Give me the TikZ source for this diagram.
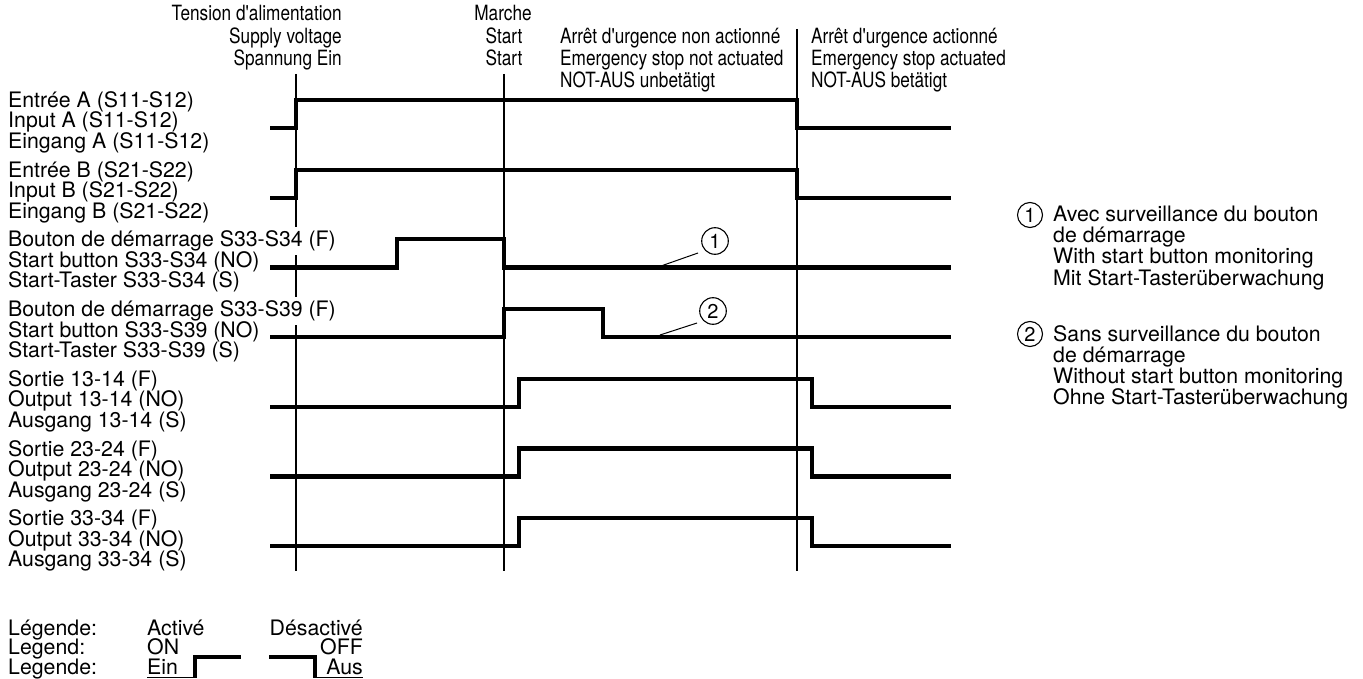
\documentclass[tikz,border=0pt]{standalone}
\usepackage{fontspec}
\setmainfont{TeX Gyre Heros}
\newfontfamily\narrowfont[FakeStretch=0.82]{TeX Gyre Heros}
\newcommand\lblf{\fontsize{21.3}{21}\selectfont}
\newcommand\hdrf{\narrowfont\fontsize{21}{21}\selectfont}
\newcommand\numf{\fontsize{20}{20}\selectfont}
\begin{document}
\begin{tikzpicture}[x=1pt,y=-1pt,
  sig/.style={line width=4.2pt},
  vline/.style={line width=1.8pt},
  lbl/.style={anchor=base west, inner xsep=0pt, inner ysep=0pt, font=\lblf},
  cutlbl/.style={lbl, fill=white, inner ysep=3.5pt},
  txt/.style={inner sep=0pt, font=\lblf},
  hdr/.style={inner sep=0pt, font=\hdrf},
  leader/.style={line width=1pt},
  num/.style={draw, circle, line width=1.1pt, minimum size=26.6pt, inner sep=0pt, font=\numf},
  thinline/.style={line width=1.6pt}]
\useasboundingbox (0,0) rectangle (1363,679);

% time marker lines
\coordinate (supT) at (296,74);  \coordinate (supB) at (296,571);
\coordinate (staT) at (504,74);  \coordinate (staB) at (504,571);
\coordinate (emeT) at (797,29);  \coordinate (emeB) at (797,571);
\draw[vline] (supT) -- (supB);
\draw[vline] (staT) -- (staB);
\draw[vline] (emeT) -- (emeB);

% header texts
\node[hdr, anchor=base east] (h1a) at (342,21) {Tension d'alimentation};
\node[hdr, anchor=base east] (h1b) at (342,44) {Supply voltage};
\node[hdr, anchor=base east] (h1c) at (342,66) {Spannung Ein};
\node[hdr, anchor=base] (h2a) at (503,21) {Marche};
\node[hdr, anchor=base] (h2b) at (504,44) {Start};
\node[hdr, anchor=base] (h2c) at (504,66) {Start};
\node[hdr, anchor=base west] (h3a) at (560,44) {Arrêt d'urgence non actionné};
\node[hdr, anchor=base west] (h3b) at (560,66) {Emergency stop not actuated};
\node[hdr, anchor=base west] (h3c) at (560,88) {NOT-AUS unbetätigt};
\node[hdr, anchor=base west] (h4a) at (811,44) {Arrêt d'urgence actionné};
\node[hdr, anchor=base west] (h4b) at (811,66) {Emergency stop actuated};
\node[hdr, anchor=base west] (h4c) at (811,88) {NOT-AUS betätigt};

% signal labels (the top line is on white, cutting the marker line where it crosses)
\foreach \i/\a/\b/\c in {
  0/{Entrée A (S11-S12)}/{Input A (S11-S12)}/{Eingang A (S11-S12)},
  1/{Entrée B (S21-S22)}/{Input B (S21-S22)}/{Eingang B (S21-S22)},
  2/{Bouton de démarrage S33-S34 (F)}/{Start button S33-S34 (NO)}/{Start-Taster S33-S34 (S)},
  3/{Bouton de démarrage S33-S39 (F)}/{Start button S33-S39 (NO)}/{Start-Taster S33-S39 (S)},
  4/{Sortie 13-14 (F)}/{Output 13-14 (NO)}/{Ausgang 13-14 (S)},
  5/{Sortie 23-24 (F)}/{Output 23-24 (NO)}/{Ausgang 23-24 (S)},
  6/{Sortie 33-34 (F)}/{Output 33-34 (NO)}/{Ausgang 33-34 (S)}}{
  \pgfmathsetmacro\L{128+69.7*\i}
  \node[cutlbl] (lab\i a) at (8,\L-20.5) {\a};
  \node[lbl] (lab\i b) at (8,\L) {\b};
  \node[lbl] (lab\i c) at (8,\L+20.5) {\c};
}

% signals
\foreach \i in {0,1}{
  \pgfmathsetmacro\L{128+69.7*\i}
  \draw[sig] (270,\L) -| (296,\L-28) -| (797,\L) -- (951,\L);
}
\draw[sig] (270,267.4) -| (397,239.4) -| (504,267.4) -- (951,267.4);
\draw[sig] (270,337.1) -| (504,309.1) -| (603,337.1) -- (951,337.1);
\foreach \i in {4,5,6}{
  \pgfmathsetmacro\L{128+69.7*\i}
  \draw[sig] (270,\L) -| (519,\L-28) -| (812,\L) -- (951,\L);
}

% circled markers on signals
\node[num] (n1) at (715,241) {1};
\coordinate (n1a) at (698,253); \coordinate (n1b) at (661,266);
\draw[leader] (n1a) -- (n1b);
\node[num] (n2) at (713,311) {2};
\coordinate (n2a) at (697,323); \coordinate (n2b) at (660,335);
\draw[leader] (n2a) -- (n2b);

% right legend
\node[num, minimum size=25pt] (r1) at (1030,215) {1};
\node[txt, anchor=base west] (r1a) at (1053,222) {Avec surveillance du bouton};
\node[txt, anchor=base west] (r1b) at (1053,243) {de démarrage};
\node[txt, anchor=base west] (r1c) at (1053,264) {With start button monitoring};
\node[txt, anchor=base west] (r1d) at (1053,285) {Mit Start-Tasterüberwachung};
\node[num, minimum size=25pt] (r2) at (1030,334) {2};
\node[txt, anchor=base west] (r2a) at (1053,341) {Sans surveillance du bouton};
\node[txt, anchor=base west] (r2b) at (1053,362) {de démarrage};
\node[txt, anchor=base west] (r2c) at (1053,383) {Without start button monitoring};
\node[txt, anchor=base west] (r2d) at (1053,404) {Ohne Start-Tasterüberwachung};

% bottom legend
\node[txt, anchor=base west] (g1) at (8,635) {Légende:};
\node[txt, anchor=base west] (g2) at (8,654.5) {Legend:};
\node[txt, anchor=base west] (g3) at (8,674) {Legende:};
\node[txt, anchor=base west] (on1) at (147,635) {Activé};
\node[txt, anchor=base west] (on2) at (147,654.5) {ON};
\node[txt, anchor=base west] (on3) at (147,674) {Ein};
\node[txt, anchor=base east] (of1) at (363,635) {Désactivé};
\node[txt, anchor=base east] (of2) at (363,654.5) {OFF};
\node[txt, anchor=base east] (of3) at (363,674) {Aus};
\coordinate (ona) at (147,677.5); \coordinate (onb) at (195,677.5);
\coordinate (onc) at (241,657);
\draw[thinline] (ona) -- (onb);
\draw[sig] (onb) |- (onc);
\coordinate (ofa) at (269,657); \coordinate (ofb) at (315,677.5);
\coordinate (ofc) at (363,677.5);
\draw[sig] (ofa) -| (ofb);
\draw[thinline] (ofb) -- (ofc);
\end{tikzpicture}
\end{document}
